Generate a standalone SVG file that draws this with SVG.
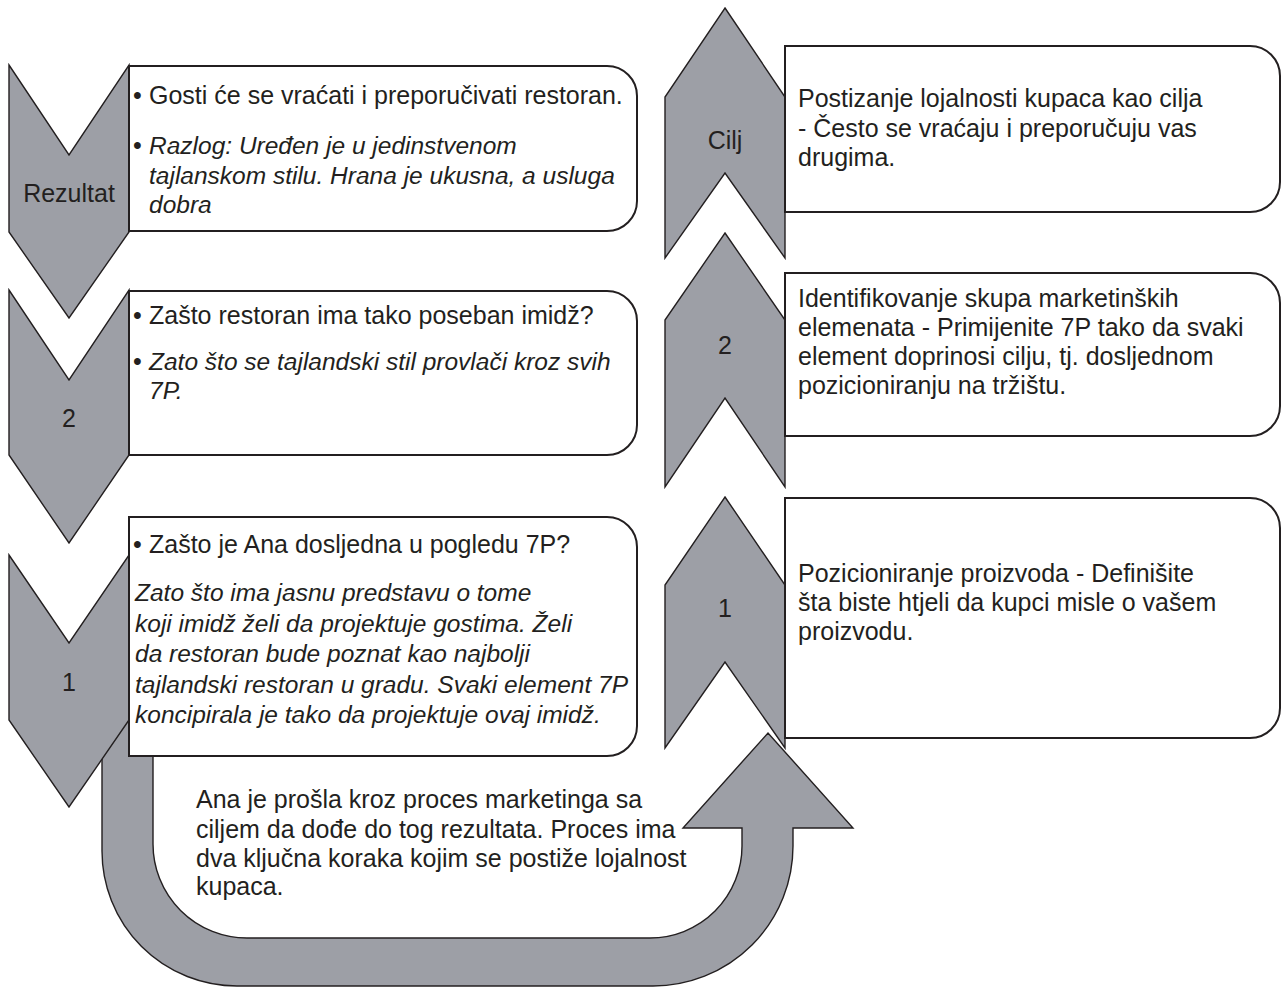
<svg xmlns="http://www.w3.org/2000/svg" width="1282" height="987" viewBox="0 0 1282 987">
<style>
.shape{fill:#9d9fa6;stroke:#231f20;stroke-width:1.4;stroke-linejoin:miter}
.box{fill:#ffffff;stroke:#231f20;stroke-width:2}
text{font-family:"Liberation Sans",Arial,sans-serif;font-size:25px;fill:#231f20}
.lbl{font-size:25px;text-anchor:middle}
.it{font-style:italic;font-size:24.5px}
</style>
<rect width="1282" height="987" fill="#ffffff"/>
<g id="connectors">
<path id="u-arrow" class="shape" d="M102,718 V851 A135,135 0 0 0 237,986 H653 A140,140 0 0 0 793,846 V828 H853 L768,733 L683,828 H742 V846 A92,92 0 0 1 650,938 H247 A94,94 0 0 1 153,844 V718 Z"/>
</g>
<g id="chev-rezultat">
<path class="shape" d="M9,65 L69,155 L129,65 V232 L69,318 L9,232 Z"/>
<text class="lbl" x="69" y="202">Rezultat</text>
</g>
<g id="chev-left-2">
<path class="shape" d="M9,290 L69,380 L129,290 V455 L69,543 L9,455 Z"/>
<text class="lbl" x="69" y="427">2</text>
</g>
<g id="chev-left-1">
<path class="shape" d="M9,555 L69,643 L129,555 V720 L69,807 L9,720 Z"/>
<text class="lbl" x="69" y="691">1</text>
</g>
<g id="box-rezultat">
<path class="box" d="M129,66 H607 A30,30 0 0 1 637,96 V201 A30,30 0 0 1 607,231 H129 Z"/>
<text x="133" y="104">•<tspan x="149">Gosti će se vraćati i preporučivati restoran.</tspan></text>
<text x="133" y="154">•<tspan x="149" class="it">Razlog: Uređen je u jedinstvenom</tspan></text>
<text class="it" x="149" y="184">tajlanskom stilu. Hrana je ukusna, a usluga</text>
<text class="it" x="149" y="213">dobra</text>
</g>
<g id="box-left-2">
<path class="box" d="M129,291 H607 A30,30 0 0 1 637,321 V425 A30,30 0 0 1 607,455 H129 Z"/>
<text x="133" y="324">•<tspan x="149">Zašto restoran ima tako poseban imidž?</tspan></text>
<text x="133" y="370">•<tspan x="149" class="it">Zato što se tajlandski stil provlači kroz svih</tspan></text>
<text class="it" x="149" y="399">7P.</text>
</g>
<g id="box-left-1">
<path class="box" d="M129,517 H607 A30,30 0 0 1 637,547 V726 A30,30 0 0 1 607,756 H129 Z"/>
<text x="133" y="553">•<tspan x="149">Zašto je Ana dosljedna u pogledu 7P?</tspan></text>
<text class="it" x="135" y="601">Zato što ima jasnu predstavu o tome</text>
<text class="it" x="135" y="631.5">koji imidž želi da projektuje gostima. Želi</text>
<text class="it" x="135" y="662">da restoran bude poznat kao najbolji</text>
<text class="it" x="135" y="692.5">tajlandski restoran u gradu. Svaki element 7P</text>
<text class="it" x="135" y="723">koncipirala je tako da projektuje ovaj imidž.</text>
</g>
<g id="chev-cilj">
<path class="shape" d="M725,8 L785,97 V258 L725,173 L665,258 V97 Z"/>
<text class="lbl" x="725" y="149">Cilj</text>
</g>
<g id="chev-right-2">
<path class="shape" d="M725,233 L785,320 V487 L725,398 L665,487 V320 Z"/>
<text class="lbl" x="725" y="354">2</text>
</g>
<g id="chev-right-1">
<path class="shape" d="M725,497 L785,585 V748 L725,662 L665,748 V585 Z"/>
<text class="lbl" x="725" y="617">1</text>
</g>
<g id="box-cilj">
<path class="box" d="M785,46 H1250 A30,30 0 0 1 1280,76 V182 A30,30 0 0 1 1250,212 H785 Z"/>
<text x="798" y="107">Postizanje lojalnosti kupaca kao cilja</text>
<text x="798" y="136.5">- Često se vraćaju i preporučuju vas</text>
<text x="798" y="166">drugima.</text>
</g>
<g id="box-right-2">
<path class="box" d="M785,273 H1250 A30,30 0 0 1 1280,303 V406 A30,30 0 0 1 1250,436 H785 Z"/>
<text x="798" y="307">Identifikovanje skupa marketinških</text>
<text x="798" y="336">elemenata - Primijenite 7P tako da svaki</text>
<text x="798" y="365">element doprinosi cilju, tj. dosljednom</text>
<text x="798" y="394">pozicioniranju na tržištu.</text>
</g>
<g id="box-right-1">
<path class="box" d="M785,498 H1250 A30,30 0 0 1 1280,528 V708 A30,30 0 0 1 1250,738 H785 Z"/>
<text x="798" y="582">Pozicioniranje proizvoda - Definišite</text>
<text x="798" y="611">šta biste htjeli da kupci misle o vašem</text>
<text x="798" y="640">proizvodu.</text>
</g>
<g id="process-note">
<text x="196" y="808">Ana je prošla kroz proces marketinga sa</text>
<text x="196" y="838">ciljem da dođe do tog rezultata. Proces ima</text>
<text x="196" y="867">dva ključna koraka kojim se postiže lojalnost</text>
<text x="196" y="895">kupaca.</text>
</g>
</svg>
